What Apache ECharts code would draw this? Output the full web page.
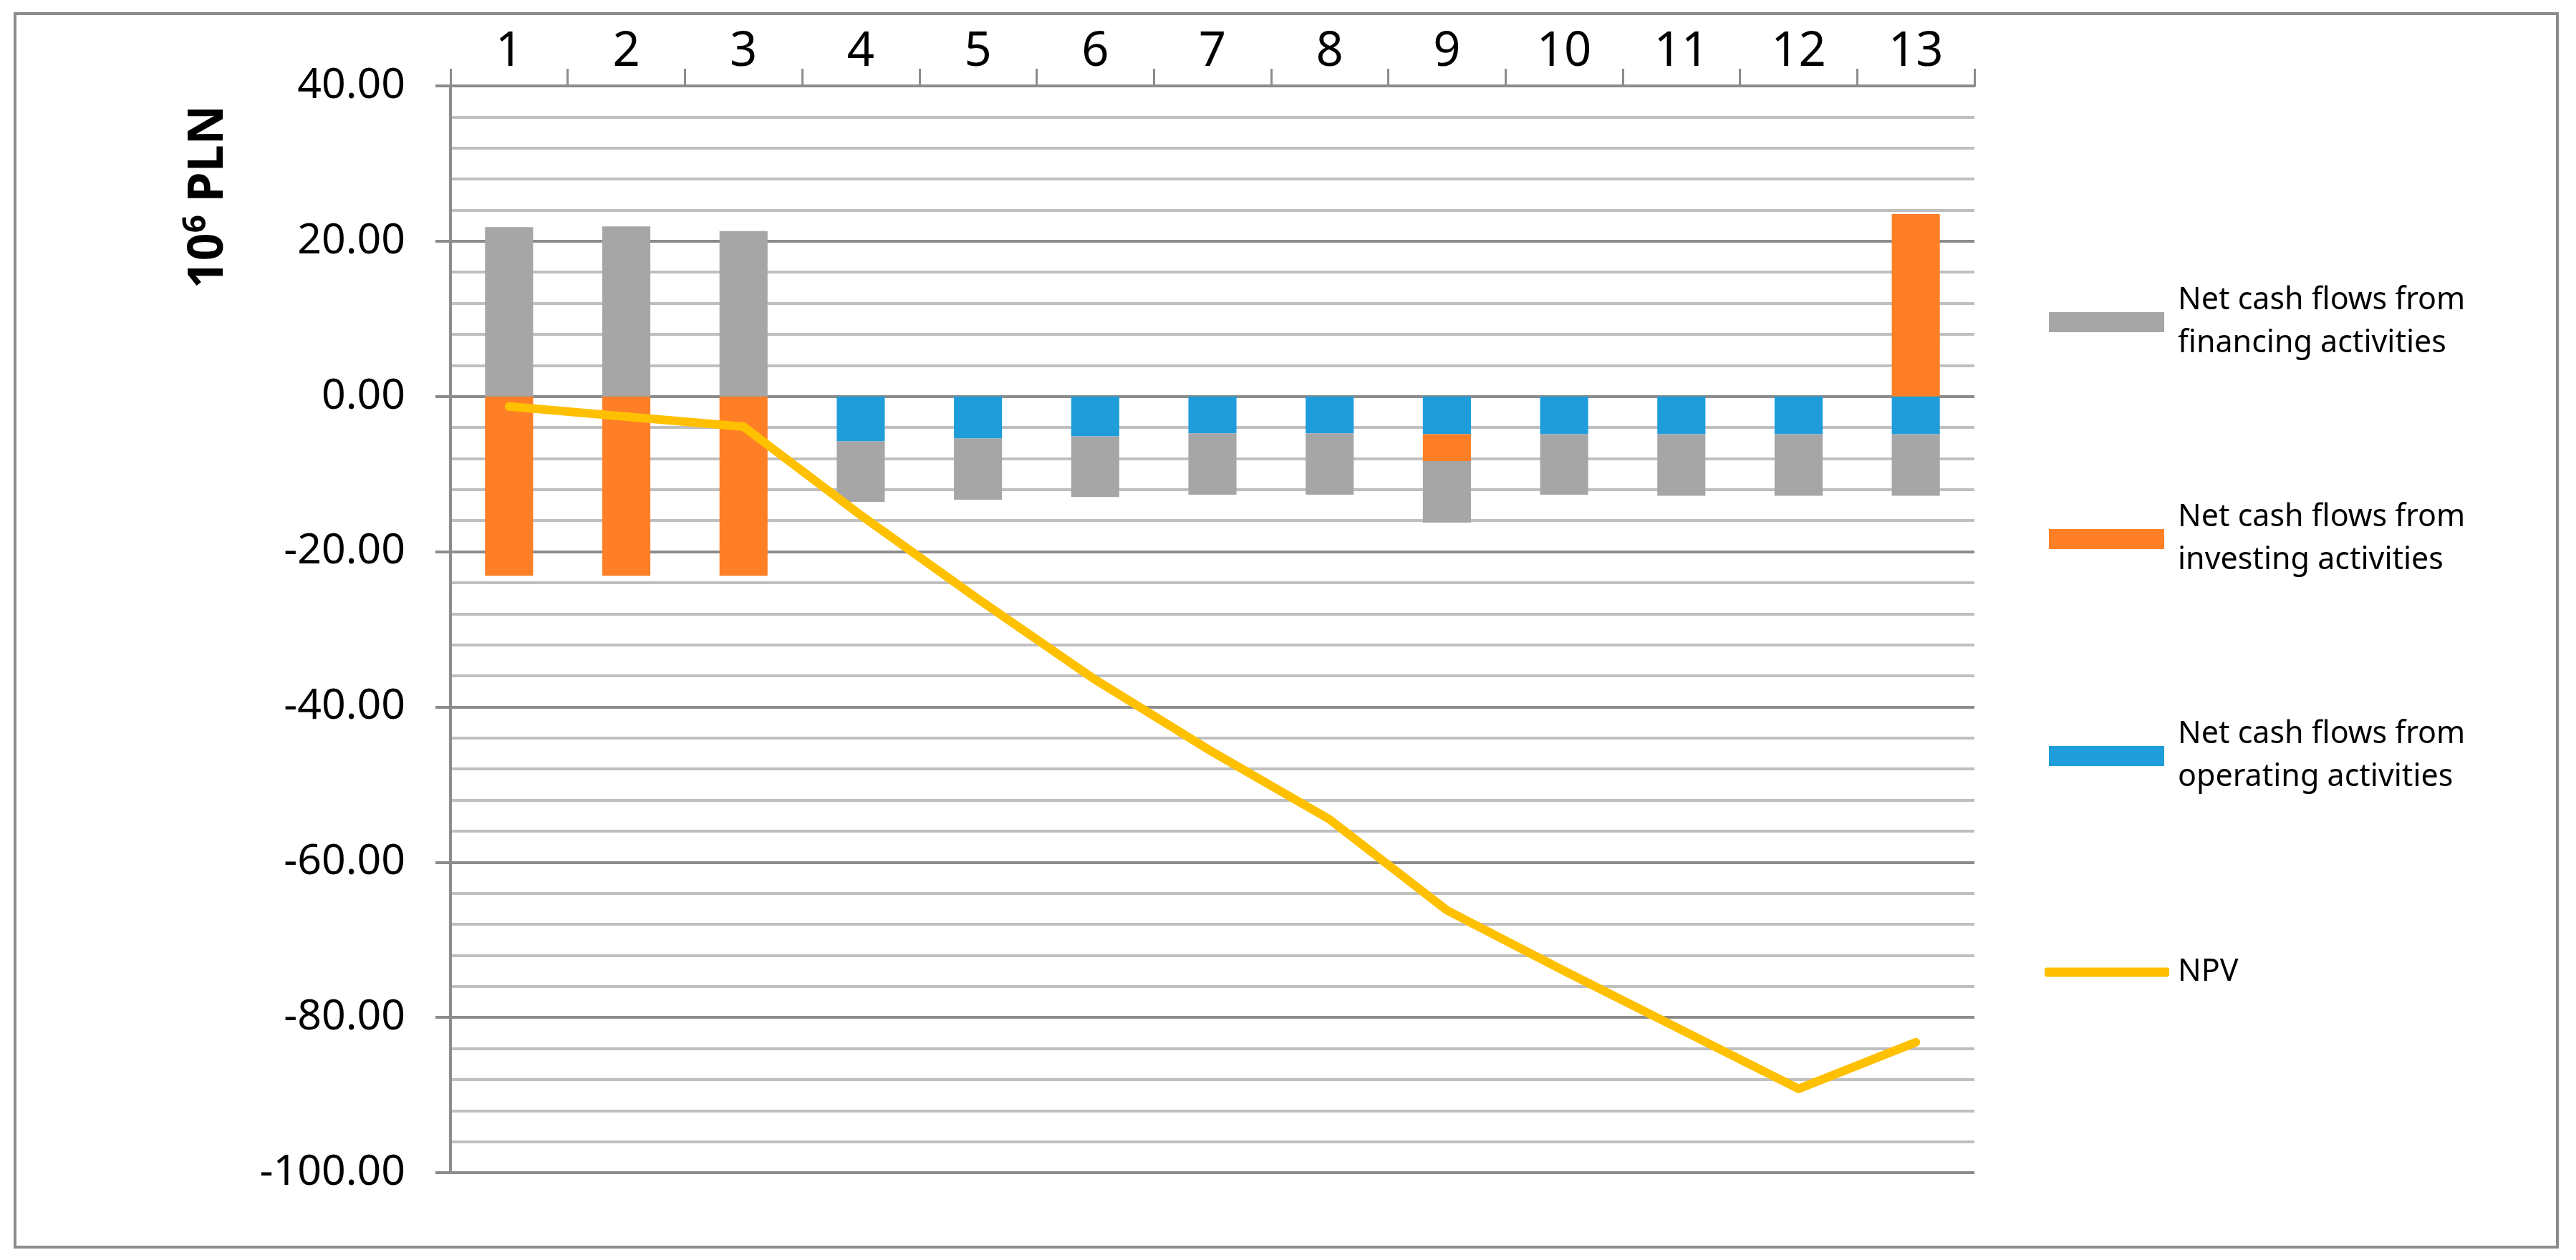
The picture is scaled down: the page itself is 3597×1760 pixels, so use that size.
<!DOCTYPE html>
<html lang="en">
  <head>
    <meta charset="utf-8">
    <script type="text/javascript" src="https://cdn.jsdelivr.net/npm/echarts@6/dist/echarts.min.js"></script>
    <style>
      body { margin: 0; background: #fff; }
    </style>
  </head>
  <body>
    <div id="main" style="width:3597px;height:1760px;"></div>
  </body>
  <script type="text/javascript">
// categories (years) and series, values in 10^6 PLN
var years = ['1', '2', '3', '4', '5', '6', '7', '8', '9', '10', '11', '12', '13'];
var operating = [0, 0, 0, -5.78, -5.43, -5.15, -4.76, -4.76, -4.87, -4.87, -4.87, -4.87, -4.87];
var investing = [-23.1, -23.1, -23.1, 0, 0, 0, 0, 0, -3.45, 0, 0, 0, 23.5];
var financing = [21.8, 21.9, 21.3, -7.8, -7.87, -7.8, -7.9, -7.9, -7.94, -7.79, -7.93, -7.93, -7.93];
var npv = [-1.3, -2.6, -3.9, -15.3, -26.1, -36.5, -45.8, -54.5, -66.2, -74.0, -81.6, -89.2, -83.2];

var names = {
    fin: 'Net cash flows from financing activities',
    inv: 'Net cash flows from investing activities',
    op: 'Net cash flows from operating activities',
    npv: 'NPV'
};

var axisGrey = '#8c8c8c';
var font = 'Noto Sans';

var myChart = echarts.init(document.getElementById('main'));

// two-line legend text, icon lined up with the first line
function twoLines(name) {
    return name.replace(/ (\w+ activities)$/, '\n$1');
}
function legendFor(name, top, left, w, h, padLeft, twoLine) {
    return {
        data: [name],
        left: left,
        top: top,
        padding: 0,
        itemWidth: w,
        itemHeight: h,
        icon: name === names.npv ? 'roundRect' : 'rect',
        selectedMode: false,
        formatter: twoLine ? twoLines : '{name}',
        textStyle: {
            fontFamily: font,
            fontSize: 43,
            lineHeight: 60,
            color: '#000',
            padding: twoLine ? [60, 0, 0, padLeft] : [0, 0, 0, padLeft]
        }
    };
}

var option = {
    animation: false,
    backgroundColor: '#fff',
    textStyle: { fontFamily: font },
    grid: {
        left: 629,
        top: 120,
        width: 2128,
        height: 1518
    },
    legend: [
        legendFor(names.fin, 360, 2861, 161, 28, 14, true),
        legendFor(names.inv, 663, 2861, 161, 28, 14, true),
        legendFor(names.op, 966, 2861, 161, 28, 14, true),
        legendFor(names.npv, 1328, 2855, 174, 13, 7, false)
    ],
    xAxis: {
        type: 'category',
        position: 'top',
        data: years,
        axisLine: { show: true, onZero: false, lineStyle: { color: axisGrey, width: 4 } },
        axisTick: { show: true, length: 24, lineStyle: { color: axisGrey, width: 3 } },
        axisLabel: { fontSize: 67, color: '#000', margin: 14, fontFamily: font }
    },
    yAxis: {
        type: 'value',
        min: -100,
        max: 40,
        interval: 20,
        axisLine: { show: true, lineStyle: { color: axisGrey, width: 4 } },
        axisTick: { show: true, length: 21, lineStyle: { color: axisGrey, width: 4 } },
        axisLabel: {
            fontSize: 59,
            color: '#000',
            margin: 63,
            fontFamily: font,
            formatter: function (v) { return v.toFixed(2); }
        },
        splitLine: { show: true, lineStyle: { color: axisGrey, width: 4 } },
        minorTick: { show: false, splitNumber: 5 },
        minorSplitLine: { show: true, lineStyle: { color: '#bfbfbf', width: 4 } }
    },
    series: [
        {
            name: names.op,
            type: 'bar',
            stack: 'cash',
            data: operating,
            barWidth: '41%',
            itemStyle: { color: '#1e9dda' }
        },
        {
            name: names.inv,
            type: 'bar',
            stack: 'cash',
            data: investing,
            itemStyle: { color: '#ff7f27' }
        },
        {
            name: names.fin,
            type: 'bar',
            stack: 'cash',
            data: financing,
            itemStyle: { color: '#a6a6a6' }
        },
        {
            name: names.npv,
            type: 'line',
            data: npv,
            symbol: 'none',
            z: 5,
            itemStyle: { color: '#ffc000' },
            lineStyle: { color: '#ffc000', width: 12, cap: 'round', join: 'round' }
        }
    ],
    graphic: [
        {
            type: 'rect',
            shape: { x: 21, y: 19, width: 3550, height: 1723 },
            style: { fill: 'none', stroke: axisGrey, lineWidth: 4 },
            silent: true
        },
        {
            type: 'text',
            x: 292,
            y: 275,
            rotation: Math.PI / 2,
            style: {
                text: '{a|10}{b|6}{a| PLN}',
                align: 'center',
                verticalAlign: 'middle',
                fill: '#000',
                rich: {
                    a: { fontFamily: font, fontWeight: 'bold', fontSize: 68, lineHeight: 80 },
                    b: { fontFamily: font, fontWeight: 'bold', fontSize: 44, lineHeight: 80, verticalAlign: 'top' }
                }
            }
        }
    ]
};

myChart.setOption(option);
  </script>
</html>
